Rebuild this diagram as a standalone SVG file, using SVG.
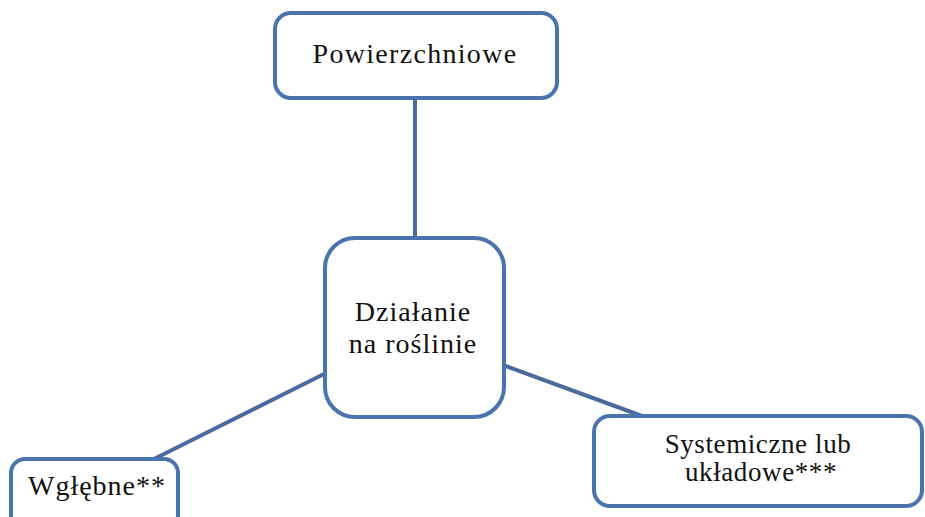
<svg xmlns="http://www.w3.org/2000/svg" width="925" height="517" viewBox="0 0 925 517">
<style>
.box{fill:#fff;stroke:#4a74ad;stroke-width:4}
.con{stroke:#4a6a9a;stroke-width:4;fill:none}
.t{font-family:'Liberation Serif','Times New Roman',serif;font-size:28px;fill:#111;text-anchor:middle;letter-spacing:1px}
.r{font-size:27px;letter-spacing:0.6px}
</style>
<rect width="925" height="517" fill="#fff"/>
<g id="connectors">
<line class="con" x1="415" y1="98" x2="415" y2="238"/>
<line class="con" x1="326" y1="373" x2="154" y2="459"/>
<line class="con" x1="503" y1="365" x2="642" y2="416"/>
</g>
<g id="n-top">
<rect class="box" x="275" y="13" width="282" height="85" rx="16"/>
<text class="t" x="415" y="63" style="letter-spacing:1.3px">Powierzchniowe</text>
</g>
<g id="n-center">
<rect class="box" x="325" y="238" width="179" height="179" rx="30"/>
<text class="t" x="413" y="321">Działanie</text>
<text class="t" x="413" y="353">na roślinie</text>
</g>
<g id="n-left">
<rect class="box" x="11" y="459" width="167" height="80" rx="14"/>
<text class="t" x="97" y="495">Wgłębne**</text>
</g>
<g id="n-right">
<rect class="box" x="594" y="416" width="328" height="90" rx="16"/>
<text class="t r" x="758" y="453">Systemiczne lub</text>
<text class="t r" x="761" y="481">układowe***</text>
</g>
</svg>
